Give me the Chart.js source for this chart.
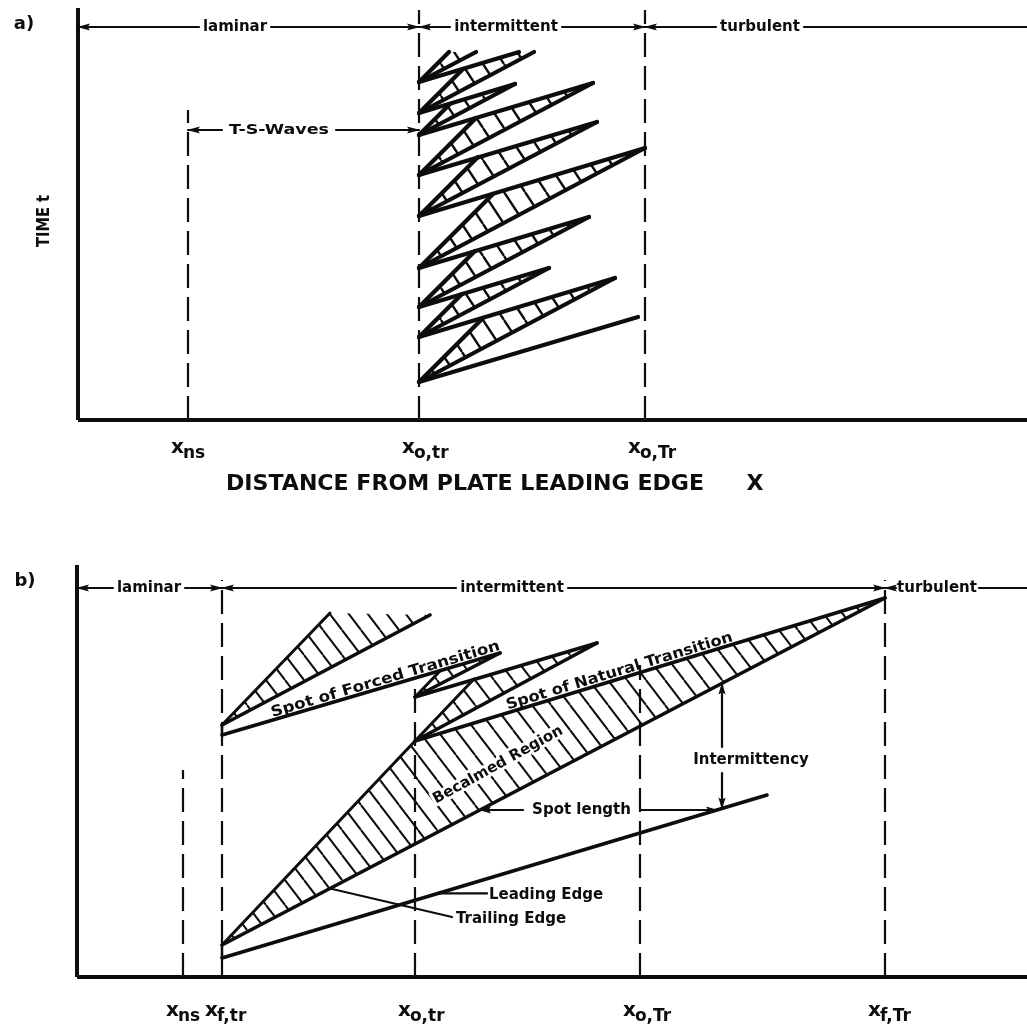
<!DOCTYPE html>
<html>
<head>
<meta charset="utf-8">
<title>Transition on a flat plate: x–t diagrams</title>
<script src="https://cdn.jsdelivr.net/npm/chart.js@4.4.1/dist/chart.umd.min.js"></script>
<style>
  html, body { margin: 0; padding: 0; background: #fff; }
  #page { position: relative; width: 1027px; height: 1029px; overflow: hidden; background: #fff; }
  #page canvas { position: absolute; left: 0; }
</style>
</head>
<body>
<div id="page">
  <canvas id="panelA" width="1027" height="530" style="top:0"></canvas>
  <canvas id="panelB" width="1027" height="499" style="top:530px"></canvas>
</div>
<script>
const INK = '#0d0d0d';
const FONT = '"DejaVu Sans", "Liberation Sans", sans-serif';

/* ---------------- a) natural transition ---------------- */
// stations along the plate (distance units)
const aStationX   = [11.0, 34.1, 56.7];
const aStationSub = ['ns', 'o,tr', 'o,Tr'];
// regime band at the top
const aRegionName = ['laminar', 'intermittent', 'turbulent'];
const aRegionX    = [15.7, 42.8, 68.2];
const aBandT      = 39.3;
const aBand       = [[0, 12.1], [19.3, 34.1], [34.1, 37.2], [48.4, 56.7], [56.7, 63.8], [72.6, 94.9]];
const aBandArrow  = ['start', 'end', 'start', 'end', 'start', null];
// T-S wave stretch
const aWaveT      = 29.0;
const aWave       = [[11.0, 14.4], [25.8, 34.1]];
const aWaveArrow  = ['start', 'end'];
const aDashTop    = [31.0, 41.0, 41.0];
// turbulent spots born at x_o,tr : birth times and edge end points
const aSpotT    = [3.8, 8.3, 11.3, 15.2, 20.4, 24.5, 28.5, 30.7, 33.8];
const aLeadEnd  = [[56.0,10.3],[53.7,14.2],[47.1,15.2],[51.1,20.3],[56.7,27.2],[51.9,29.8],[51.5,33.7],[43.7,33.6],[44.1,36.8]];
const aTrailEnd = [[53.7,14.2],[47.1,15.2],[51.1,20.3],[56.7,27.2],[51.9,29.8],[51.5,33.7],[43.7,33.6],[45.6,36.8],[39.8,36.8]];
const aCalmEnd  = [[40.5,10.2],[38.4,12.6],[39.7,16.9],[41.5,22.6],[40.0,26.3],[39.8,30.2],[37.2,31.6],[38.5,35.1],[37.1,36.8]];

/* ---------------- b) forced + natural transition ---------------- */
const bStationX   = [10.6, 14.5, 33.8, 56.3, 80.8];
const bStationSub = ['ns', 'f,tr', 'o,tr', 'o,Tr', 'f,Tr'];
const bRegionName = ['laminar', 'intermittent', 'turbulent'];
const bRegionX    = [7.2, 43.5, 86.0];
const bBandT      = 38.9;
const bBand       = [[0, 3.6], [10.8, 14.5], [14.5, 37.9], [49.1, 80.8], [80.8, 81.9], [90.2, 95.0]];
const bBandArrow  = ['start', 'end', 'start', 'end', 'start', null];
const bDashTop    = [20.7, 39.7, 29.7, 31.2, 39.7];
// spots: upper forced, natural 1, natural 2, main forced
const bOrigin    = [[14.5,25.2],[33.8,28.0],[33.8,23.6],[14.5,3.2]];
const bLeadStart = [[14.5,24.2],[33.8,28.0],[33.8,23.6],[14.5,1.9]];
const bLeadEnd   = [[42.3,32.4],[52.0,33.4],[80.8,37.9],[69.0,18.2]];
const bTrailEnd  = [[35.3,36.2],[42.3,32.4],[52.0,33.4],[80.8,37.9]];
const bCalmEnd   = [[25.3,36.4],[36.3,30.6],[39.7,29.8],[33.8,23.6]];
// annotations
const bIntermX      = 64.5;
const bIntermShafts = [[23.0, 29.35], [20.4, 16.85]];
const bSpotLenT     = 16.7;
const bSpotLenShafts= [[44.6, 40.3], [56.4, 64.0]];
const bLeaderLead   = [[36.1, 8.36], [41.0, 8.36]];
const bLeaderTrail  = [[25.3, 8.85], [37.5, 6.0]];
const bNoteText = ['Spot of Forced Transition', 'Spot of Natural Transition', 'Becalmed Region',
                   'Intermittency', 'Spot length', 'Leading Edge', 'Trailing Edge'];
const bNoteAt   = [[31.05, 29.08], [54.45, 29.9], [42.1, 21.2], [67.4, 21.7], [50.45, 16.7], [41.2, 8.2], [37.9, 5.8]];

/* ---------------- helpers ---------------- */
const P = ([x, y]) => ({ x, y });

function seg(a, b, width, extra = {}) {
  return Object.assign({
    data: [P(a), P(b)], showLine: true, borderColor: INK, borderWidth: width,
    pointRadius: 0, fill: false, tension: 0, borderCapStyle: 'round', borderJoinStyle: 'round'
  }, extra);
}

// slanted hatching: one stroke per tile, running from top-left to bottom-right
function hatchPattern(ctx, w, h, width) {
  const c = document.createElement('canvas');
  c.width = w; c.height = h;
  const g = c.getContext('2d');
  g.strokeStyle = INK; g.lineWidth = width;
  g.beginPath();
  for (const o of [-w, 0, w]) { g.moveTo(o, 0); g.lineTo(o + w, h); }
  g.stroke();
  return ctx.createPattern(c, 'repeat');
}

function area(pts, pattern) {
  const d = pts.concat([pts[0]]).map(P);
  return { data: d, showLine: true, borderWidth: 0, borderColor: 'rgba(0,0,0,0)',
           backgroundColor: pattern, fill: 'shape', pointRadius: 0, tension: 0 };
}

function drawLabel(ctx, text, x, y, o) {
  ctx.save();
  ctx.translate(x, y);
  if (o.angle) ctx.rotate(o.angle * Math.PI / 180);
  ctx.font = `bold ${o.size}px ${FONT}`;
  ctx.fillStyle = INK;
  ctx.textBaseline = o.baseline || 'middle';
  ctx.textAlign = 'left';
  const w = ctx.measureText(text).width;
  const sx = o.width ? o.width / w : (o.sx || 1);
  const dw = w * sx;
  const x0 = o.align === 'left' ? 0 : o.align === 'right' ? -dw : -dw / 2;
  ctx.translate(x0, o.dy || 0);
  ctx.scale(sx, 1);
  if (o.halo) {
    ctx.strokeStyle = '#fff'; ctx.lineWidth = o.halo; ctx.lineJoin = 'round';
    ctx.strokeText(text, 0, 0);
  }
  ctx.fillText(text, 0, 0);
  ctx.restore();
}

function drawStations(chart, xs, subs, t) {
  const ctx = chart.ctx, sx = chart.scales.x, sy = chart.scales.y;
  let prevRight = -1e9;
  xs.forEach((v, i) => {
    const px = sx.getPixelForValue(v), py = sy.getPixelForValue(t);
    const left = Math.max(px - 17, prevRight + 1);
    ctx.save();
    ctx.fillStyle = INK; ctx.textBaseline = 'alphabetic'; ctx.textAlign = 'left';
    ctx.font = `bold 20px ${FONT}`;
    ctx.fillText('x', left, py);
    const wx = ctx.measureText('x').width;
    ctx.font = `bold 17px ${FONT}`;
    ctx.fillText(subs[i], left + wx - 1, py + 5);
    prevRight = left + wx - 1 + ctx.measureText(subs[i]).width;
    ctx.restore();
  });
}

const arrowPlugin = {
  id: 'arrowHeads',
  afterDatasetsDraw(chart) {
    const ctx = chart.ctx;
    chart.data.datasets.forEach((ds, i) => {
      if (!ds.arrow) return;
      const pts = chart.getDatasetMeta(i).data;
      const tip = ds.arrow === 'start' ? pts[0] : pts[pts.length - 1];
      const from = ds.arrow === 'start' ? pts[1] : pts[pts.length - 2];
      const a = Math.atan2(tip.y - from.y, tip.x - from.x);
      const L = ds.headLen || 12, W = ds.headWidth || 3.4;
      ctx.save();
      ctx.translate(tip.x, tip.y); ctx.rotate(a);
      ctx.beginPath();
      ctx.moveTo(1, 0); ctx.lineTo(-L, -W); ctx.lineTo(-L * 0.8, 0); ctx.lineTo(-L, W);
      ctx.closePath();
      ctx.fillStyle = INK; ctx.fill();
      ctx.restore();
    });
  }
};

function makeChart(id, datasets, xMax, yMax, padding, textPlugin) {
  return new Chart(document.getElementById(id), {
    type: 'scatter',
    data: { datasets },
    options: {
      responsive: false, animation: false, events: [],
      layout: { padding },
      plugins: { legend: { display: false }, tooltip: { enabled: false } },
      scales: {
        x: { type: 'linear', min: 0, max: xMax, display: false },
        y: { type: 'linear', min: 0, max: yMax, display: false }
      }
    },
    plugins: [arrowPlugin, textPlugin]
  });
}

/* ---------------- panel a datasets ---------------- */
const ctxA = document.getElementById('panelA').getContext('2d');
const hatchA = hatchPattern(ctxA, 21, 32, 2.4);
const dsA = [];
// calmed regions (hatched)
aSpotT.forEach((t, k) => {
  const o = [aStationX[1], t];
  const v = [o, aCalmEnd[k]];
  const nx = aLeadEnd[k + 1];
  if (nx && (nx[0] !== aTrailEnd[k][0] || nx[1] !== aTrailEnd[k][1])) v.push(nx);
  v.push(aTrailEnd[k]);
  dsA.push(area(v, hatchA));
});
// axes
dsA.push(seg([0, 0], [0, 41.2], 4, { clip: false, borderCapStyle: 'butt' }));
dsA.push(seg([0, 0], [94.9, 0], 4, { clip: false, borderCapStyle: 'butt' }));
// station lines
aStationX.forEach((x, i) => dsA.push(seg([x, 0], [x, aDashTop[i]], 2.2, { borderDash: [24, 9], borderCapStyle: 'butt' })));
// regime band
aBand.forEach((s, i) => dsA.push(seg([s[0], aBandT], [s[1], aBandT], 2.2, { arrow: aBandArrow[i], clip: false })));
aWave.forEach((s, i) => dsA.push(seg([s[0], aWaveT], [s[1], aWaveT], 2.2, { arrow: aWaveArrow[i] })));
// spot edges
aSpotT.forEach((t, k) => {
  const o = [aStationX[1], t];
  dsA.push(seg(o, aLeadEnd[k], 4.2));
  dsA.push(seg(o, aTrailEnd[k], 4.2));
  dsA.push(seg(o, aCalmEnd[k], 4.2));
});

const textA = {
  id: 'textA',
  afterDraw(chart) {
    const ctx = chart.ctx, sx = chart.scales.x, sy = chart.scales.y;
    const X = v => sx.getPixelForValue(v), Y = v => sy.getPixelForValue(v);
    aRegionName.forEach((n, i) => drawLabel(ctx, n, X(aRegionX[i]), Y(aBandT), { size: 15 }));
    drawLabel(ctx, 'T-S-Waves', X(20.1), Y(aWaveT), { size: 14, width: 100 });
    drawStations(chart, aStationX, aStationSub, -3.3);
    drawLabel(ctx, 'DISTANCE FROM PLATE LEADING EDGE', X(14.8), Y(-7.0), { size: 22, width: 478, align: 'left', baseline: 'alphabetic' });
    drawLabel(ctx, 'X', X(67.7), Y(-7.0), { size: 22, baseline: 'alphabetic' });
    drawLabel(ctx, 'TIME t', X(-3.3), Y(19.9), { size: 17, width: 52, angle: -90 });
    drawLabel(ctx, 'a)', X(-5.4), Y(39.6), { size: 18 });
  }
};
makeChart('panelA', dsA, 94.9, 41.0, { left: 78, top: 10, right: 0, bottom: 110 }, textA);

/* ---------------- panel b datasets ---------------- */
const ctxB = document.getElementById('panelB').getContext('2d');
const hatchB = hatchPattern(ctxB, 19, 25, 2.0);
const dsB = [];
bOrigin.forEach((o, k) => dsB.push(area([o, bCalmEnd[k], bTrailEnd[k]], hatchB)));
dsB.push(seg([0, 0], [0, 41.2], 4, { clip: false, borderCapStyle: 'butt' }));
dsB.push(seg([0, 0], [95, 0], 4, { clip: false, borderCapStyle: 'butt' }));
bStationX.forEach((x, i) => dsB.push(seg([x, 0], [x, bDashTop[i]], 2.2, { borderDash: [24, 9], borderCapStyle: 'butt', clip: false })));
bBand.forEach((s, i) => dsB.push(seg([s[0], bBandT], [s[1], bBandT], 2.2, { arrow: bBandArrow[i], clip: false })));
bOrigin.forEach((o, k) => {
  if (bLeadStart[k][1] !== o[1]) dsB.push(seg(bLeadStart[k], o, 2.5));
  dsB.push(seg(bLeadStart[k], bLeadEnd[k], 3.6));
  dsB.push(seg(o, bTrailEnd[k], 3.6));
  dsB.push(seg(o, bCalmEnd[k], 3.0));
});
bIntermShafts.forEach(s => dsB.push(seg([bIntermX, s[0]], [bIntermX, s[1]], 2.2, { arrow: 'end', headLen: 11, headWidth: 3.6 })));
bSpotLenShafts.forEach(s => dsB.push(seg([s[0], bSpotLenT], [s[1], bSpotLenT], 2.2, { arrow: 'end', headLen: 11, headWidth: 3.6 })));
dsB.push(seg(bLeaderLead[0], bLeaderLead[1], 2.2));
dsB.push(seg(bLeaderTrail[0], bLeaderTrail[1], 2.2));

const bNoteStyle = [
  { size: 15, width: 238, angle: -16.4, baseline: 'alphabetic', dy: -3 },
  { size: 15, width: 236, angle: -16.9, baseline: 'alphabetic', dy: -3 },
  { size: 15, angle: -29, halo: 6 },
  { size: 15 },
  { size: 15 },
  { size: 15, align: 'left' },
  { size: 15, align: 'left' }
];
const textB = {
  id: 'textB',
  afterDraw(chart) {
    const ctx = chart.ctx, sx = chart.scales.x, sy = chart.scales.y;
    const X = v => sx.getPixelForValue(v), Y = v => sy.getPixelForValue(v);
    bRegionName.forEach((n, i) => drawLabel(ctx, n, X(bRegionX[i]), Y(bBandT), { size: 15 }));
    bNoteText.forEach((n, i) => drawLabel(ctx, n, X(bNoteAt[i][0]), Y(bNoteAt[i][1]), bNoteStyle[i]));
    drawStations(chart, bStationX, bStationSub, -3.9);
    drawLabel(ctx, 'b)', X(-5.2), Y(39.6), { size: 18 });
  }
};
makeChart('panelB', dsB, 95.0, 41.0, { left: 77, top: 37, right: 0, bottom: 52 }, textB);
</script>
</body>
</html>
